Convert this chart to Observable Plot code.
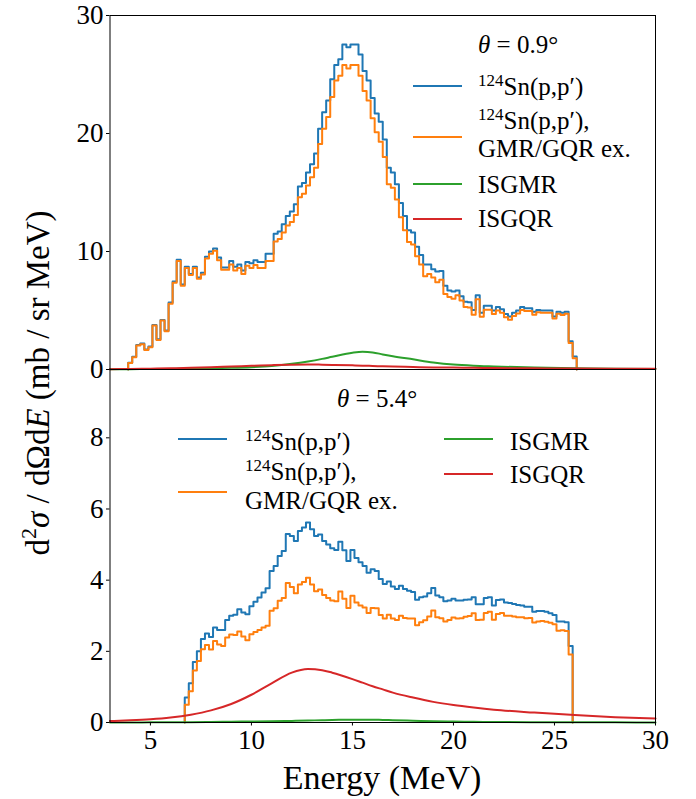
<!DOCTYPE html>
<html>
<head>
<meta charset="utf-8">
<script src="https://cdn.jsdelivr.net/npm/d3@7"></script>
<script src="https://cdn.jsdelivr.net/npm/@observablehq/plot@0.6"></script>
<style>
  body { margin: 0; background: #fff; }
  #wrap { position: relative; width: 696px; height: 799px; overflow: hidden; font-family: "Liberation Serif", serif; }
  #wrap svg, #wrap svg text, #wrap svg tspan { font-family: "Liberation Serif", serif !important; }
  #top, #bottom { position: absolute; left: 0; }
  #top { top: 0; }
  #bottom { top: 369px; }
  #ylab { position: absolute; left: 38px; top: 383px; transform: translate(-50%, -50%) rotate(-90deg); white-space: nowrap; font-family: "Liberation Serif", serif; font-size: 33px; line-height: 1; color: #000; }
  #ylab sup { font-size: 22px; vertical-align: 0; position: relative; top: -13px; }
</style>
</head>
<body>
<div id="wrap">
  <div id="top"></div>
  <div id="bottom"></div>
  <div id="ylab">d<sup>2</sup><i>σ</i> / dΩd<i>E</i> (mb / sr MeV)</div>
</div>
<script>
// ---------- data ----------
const binWidth = 0.2;            // MeV
const topStart = 3.9;            // first bin edge, theta = 0.9 deg
const bottomStart = 6.7;         // first bin edge, theta = 5.4 deg

// theta = 0.9 deg, 124Sn(p,p')
const topBlue = [
  0.58,1.08,2.08,2.2,1.7,1.94,3.78,2.56,4.2,3.3,
  5.67,7.45,9.3,7.2,8.7,8.1,8.7,7.8,8.2,9.55,
  10.0,10.26,9.5,8.65,8.65,9.2,8.7,8.9,8.4,9.1,
  9.0,9.25,9.1,9.1,9.8,9.8,11.5,11.7,12.3,13.0,
  13.4,14.0,15.5,15.8,16.7,17.4,18.3,20.4,21.8,22.8,
  24.6,25.8,26.3,27.55,27.3,27.55,27.55,26.7,25.3,24.5,
  23.0,21.7,21.0,19.5,17.1,16.7,15.7,14.1,13.0,11.8,
  11.6,10.4,9.7,8.9,8.9,8.5,8.3,8.35,7.1,6.7,
  6.6,6.7,6.2,5.75,5.7,5.05,6.3,4.8,5.4,5.4,
  5.0,5.3,5.1,4.7,4.5,4.8,5.0,5.3,5.2,5.2,
  4.9,5.05,5.0,5.0,5.0,4.5,4.9,4.8,4.9,2.4,
  1.1
];
// theta = 0.9 deg, 124Sn(p,p'), GMR/GQR excluded
const topOrange = [
  0.55,1.03,2.03,2.15,1.65,1.89,3.73,2.51,4.15,3.25,
  5.57,7.35,9.2,7.1,8.6,8.0,8.6,7.7,8.05,9.4,
  9.8,10.06,9.26,8.45,8.45,8.9,8.4,8.6,8.1,8.8,
  8.6,8.85,8.6,8.6,9.2,9.2,10.85,11.05,11.6,12.2,
  12.5,13.1,14.6,14.9,15.6,16.3,17.1,19.1,20.4,21.4,
  23.1,24.5,24.9,25.8,25.5,25.8,25.8,24.9,23.6,22.8,
  21.3,20.1,19.3,18.0,15.7,15.4,14.4,12.9,11.8,10.8,
  10.6,9.6,8.9,7.9,8.1,7.8,7.4,7.6,6.4,6.15,
  6.0,6.3,5.85,5.3,5.25,4.65,5.95,4.47,5.07,5.07,
  4.7,5.0,4.8,4.42,4.22,4.53,4.74,5.04,4.95,4.95,
  4.65,4.85,4.8,4.8,4.8,4.32,4.72,4.62,4.73,2.25,
  0.95
];
// theta = 5.4 deg, 124Sn(p,p')
const bottomBlue = [
  0.7,1.1,1.7,2.0,2.35,2.5,2.4,2.67,2.6,2.6,
  2.88,3.0,3.03,3.18,3.09,3.04,3.27,3.39,3.51,3.65,
  3.77,4.26,4.4,4.68,4.82,5.3,5.24,5.1,5.38,5.48,
  5.62,5.43,5.24,5.28,5.1,5.0,4.9,4.85,5.08,4.84,
  4.54,4.85,4.62,4.5,4.4,4.21,4.31,4.26,4.03,3.89,
  3.96,3.82,3.75,3.84,3.75,3.7,3.67,3.45,3.52,3.54,
  3.63,3.78,3.57,3.52,3.41,3.43,3.48,3.43,3.43,3.45,
  3.46,3.52,3.32,3.32,3.5,3.52,3.29,3.44,3.46,3.37,
  3.36,3.33,3.3,3.29,3.25,3.25,3.11,3.13,3.13,3.11,
  3.07,3.02,2.84,2.84,2.82,2.15
];
// theta = 5.4 deg, 124Sn(p,p'), GMR/GQR excluded
const bottomOrange = [
  0.5,0.88,1.46,1.73,2.06,2.18,2.05,2.29,2.19,2.15,
  2.39,2.47,2.46,2.56,2.42,2.31,2.48,2.54,2.6,2.67,
  2.72,3.14,3.21,3.42,3.5,3.92,3.81,3.63,3.88,3.95,
  4.07,3.88,3.69,3.74,3.58,3.5,3.43,3.41,3.68,3.48,
  3.22,3.56,3.37,3.29,3.23,3.08,3.22,3.21,3.02,2.92,
  3.03,2.92,2.88,3.0,2.94,2.92,2.92,2.73,2.82,2.87,
  2.98,3.15,2.96,2.93,2.84,2.88,2.95,2.92,2.93,2.97,
  2.99,3.07,2.88,2.89,3.08,3.11,2.89,3.05,3.08,3.0,
  3.0,2.98,2.96,2.96,2.93,2.94,2.81,2.84,2.85,2.83,
  2.8,2.76,2.58,2.59,2.57,1.91
];

// smooth resonance curves, sampled energies (MeV)
const curveE = [3,4,5,6,7,8,9,10,11,12,12.8,13.5,14,15,15.5,16,16.5,17,18,19,20,21,22,24,26,28,30];
const topISGMR    = [0.02,0.03,0.04,0.05,0.07,0.1,0.14,0.2,0.3,0.48,0.68,0.9,1.08,1.42,1.5,1.45,1.28,1.12,0.86,0.6,0.42,0.32,0.26,0.16,0.1,0.07,0.05];
const topISGQR    = [0.03,0.05,0.07,0.1,0.14,0.19,0.25,0.31,0.37,0.41,0.42,0.41,0.39,0.35,0.32,0.3,0.27,0.25,0.21,0.18,0.16,0.14,0.12,0.1,0.08,0.065,0.055];
const bottomISGMR = [0,0,0.005,0.01,0.01,0.015,0.02,0.03,0.035,0.045,0.055,0.065,0.07,0.08,0.08,0.078,0.073,0.066,0.05,0.035,0.025,0.02,0.015,0.01,0.005,0.004,0.003];
const bottomISGQR = [0.04,0.06,0.09,0.14,0.22,0.34,0.52,0.78,1.1,1.4,1.5,1.47,1.4,1.22,1.12,1.02,0.93,0.84,0.7,0.58,0.49,0.42,0.36,0.28,0.21,0.15,0.11];

const xTicks = [5,10,15,20,25,30];
const topYTicks = [0,10,20,30];
const bottomYTicks = [0,2,4,6,8];

// ---------- helpers ----------
const BLUE = "#1f77b4", ORANGE = "#ff7f0e", GREEN = "#2ca02c", RED = "#d62728";
const FONT = "Liberation Serif, serif";

function stepPoints(start, vals) {
  const n = vals.length;
  const pts = [{x: start, y: 0}];
  vals.forEach((v, i) => pts.push({x: start + i * binWidth, y: v}));
  pts.push({x: start + n * binWidth, y: vals[n - 1]});
  pts.push({x: start + n * binWidth, y: 0});
  return pts;
}
function curvePoints(vals) { return curveE.map((e, i) => ({x: e, y: vals[i]})); }

function histMarks(blue, orange, start, gmr, gqr) {
  return [
    Plot.line(stepPoints(start, blue), {x: "x", y: "y", curve: "step-after", stroke: BLUE, strokeWidth: 2}),
    Plot.line(stepPoints(start, orange), {x: "x", y: "y", curve: "step-after", stroke: ORANGE, strokeWidth: 2}),
    Plot.line(curvePoints(gmr), {x: "x", y: "y", curve: "monotone-x", stroke: GREEN, strokeWidth: 2}),
    Plot.line(curvePoints(gqr), {x: "x", y: "y", curve: "monotone-x", stroke: RED, strokeWidth: 2})
  ];
}

function addText(g, x, y, parts, size, anchor = "start") {
  const t = g.append("text").attr("x", x).attr("y", y).attr("text-anchor", anchor)
    .attr("font-family", FONT).attr("font-size", size).attr("fill", "#000");
  let shift = 0;
  parts.forEach(p => {
    const s = t.append("tspan").text(p.t);
    if (p.sup) {
      s.attr("font-size", size * 0.68).attr("dy", -size * 0.38 - shift);
      shift = -size * 0.38;
    } else if (shift !== 0) {
      s.attr("dy", -shift); shift = 0;
    }
    if (p.it) s.attr("font-style", "italic");
  });
  return t;
}
function addLine(g, x1, x2, y, color) {
  g.append("line").attr("x1", x1).attr("x2", x2).attr("y1", y).attr("y2", y)
    .attr("stroke", color).attr("stroke-width", 2);
}
const snLabel = [{t: "124", sup: true}, {t: "Sn(p,p\u2032)"}];
const snLabel2 = [{t: "124", sup: true}, {t: "Sn(p,p\u2032),"}];
const LS = 25; // legend font size

// ---------- top panel ----------
const topPlot = Plot.plot({
  width: 696, height: 369,
  marginTop: 15, marginBottom: 0, marginLeft: 109.5, marginRight: 41,
  x: {domain: [3, 30], axis: null},
  y: {domain: [0, 30]},
  style: {fontFamily: FONT, background: "transparent", overflow: "visible", color: "#000"},
  marks: [
    ...histMarks(topBlue, topOrange, topStart, topISGMR, topISGQR),
    Plot.frame({stroke: "#000", strokeWidth: 1}),
    Plot.axisY({ticks: topYTicks, tickSize: 3.5, tickPadding: 3, label: null, fontSize: 27, fontFamily: FONT})
  ]
});
document.getElementById("top").appendChild(topPlot);
{
  const g = d3.select(topPlot).append("g");
  addText(g, 478, 53, [{t: "θ", it: true}, {t: " = 0.9°"}], LS);
  addLine(g, 413, 462, 86, BLUE);    addText(g, 478, 95, snLabel, LS);
  addLine(g, 413, 462, 137, ORANGE); addText(g, 478, 129, snLabel2, LS); addText(g, 478, 157, [{t: "GMR/GQR ex."}], LS);
  addLine(g, 413, 462, 184, GREEN);  addText(g, 478, 193, [{t: "ISGMR"}], LS);
  addLine(g, 413, 462, 219, RED);    addText(g, 478, 227, [{t: "ISGQR"}], LS);
}

// ---------- bottom panel ----------
const bottomPlot = Plot.plot({
  width: 696, height: 430,
  marginTop: 0, marginBottom: 77, marginLeft: 109.5, marginRight: 41,
  x: {domain: [3, 30]},
  y: {domain: [0, 9.92]},
  style: {fontFamily: FONT, background: "transparent", overflow: "visible", color: "#000"},
  marks: [
    ...histMarks(bottomBlue, bottomOrange, bottomStart, bottomISGMR, bottomISGQR),
    Plot.frame({stroke: "#000", strokeWidth: 1}),
    Plot.axisY({ticks: bottomYTicks, tickSize: 3.5, tickPadding: 3, label: null, fontSize: 27, fontFamily: FONT}),
    Plot.axisX({ticks: xTicks, tickSize: 3.5, tickPadding: 4, label: null, fontSize: 27, fontFamily: FONT})
  ]
});
document.getElementById("bottom").appendChild(bottomPlot);
{
  const g = d3.select(bottomPlot).append("g");
  const o = 369;
  addText(g, 337, 407 - o, [{t: "θ", it: true}, {t: " = 5.4°"}], LS);
  addLine(g, 178, 227, 439 - o, BLUE);   addText(g, 245, 450 - o, snLabel, LS);
  addLine(g, 178, 227, 492 - o, ORANGE); addText(g, 245, 480 - o, snLabel2, LS); addText(g, 245, 509 - o, [{t: "GMR/GQR ex."}], LS);
  addLine(g, 444, 493, 439 - o, GREEN);  addText(g, 510, 450 - o, [{t: "ISGMR"}], LS);
  addLine(g, 444, 493, 474 - o, RED);    addText(g, 510, 483 - o, [{t: "ISGQR"}], LS);
  addText(g, 382, 789 - o, [{t: "Energy (MeV)"}], 34, "middle");
}
</script>
</body>
</html>
